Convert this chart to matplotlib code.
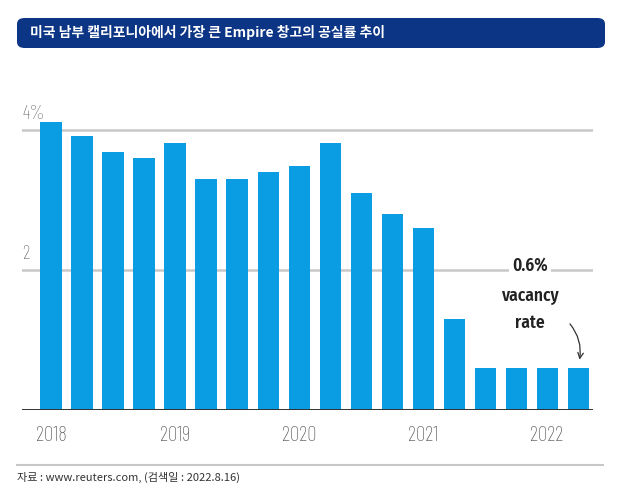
import numpy as np
import matplotlib.pyplot as plt
from matplotlib.patches import FancyBboxPatch

plt.rcParams['font.family'] = ['Noto Sans CJK KR', 'DejaVu Sans']
narrow = ['Barlow Condensed', 'Liberation Sans Narrow', 'DejaVu Sans']
bold_narrow = ['Fira Sans Condensed', 'Liberation Sans Narrow', 'DejaVu Sans']

# Quarterly vacancy rate (%), 2018 Q1 .. 2022 Q2
vacancy = [4.11, 3.91, 3.69, 3.60, 3.81, 3.30, 3.30, 3.40, 3.49,
           3.81, 3.10, 2.80, 2.60, 1.30, 0.60, 0.60, 0.60, 0.60]
year_labels = ['2018', '2019', '2020', '2021', '2022']
year_pos = [0, 4, 8, 12, 16]
grid_vals = [2, 4]
grid_labels = ['2', '4%']

title = '미국 남부 캘리포니아에서 가장 큰 Empire 창고의 공실률 추이'
source = '자료 : www.reuters.com, (검색일 : 2022.8.16)'

W, H = 633, 499
fig = plt.figure(figsize=(W / 100, H / 100), dpi=100)

# title box
box = FancyBboxPatch((17 / W, 1 - 48 / H), 588 / W, 30 / H,
                     boxstyle='round,pad=0,rounding_size=0.012',
                     transform=fig.transFigure, facecolor='#0c3586',
                     edgecolor='none')
fig.patches.append(box)
fig.text(30 / W, 1 - 33 / H, title, color='white', fontsize=10,
         fontweight='bold', va='center', ha='left')

# main axes: left 22px, right 593px, zero at y=410, 70px per %
ax = fig.add_axes([22 / W, (H - 410) / H, 571 / W, 315 / H])
x = np.arange(len(vacancy))
ax.bar(x, vacancy, width=0.68, color='#0b9de3', zorder=2)
ax.set_xlim(-0.935, 17.48)
ax.set_ylim(0, 4.5)

for v, lab in zip(grid_vals, grid_labels):
    ax.axhline(v, color='#c8c8c8', lw=1.8, zorder=1)
    ax.text(-0.92, v + 0.1, lab, color='#707070', fontsize=14,
            family=narrow, fontweight='light', ha='left', va='bottom')

ax.axhline(0, color='#333333', lw=1.4, zorder=3)

for p, lab in zip(year_pos, year_labels):
    ax.text(p, -0.23, lab, color='#555555', fontsize=15,
            family=narrow, fontweight='light', ha='center', va='top')

for s in ax.spines.values():
    s.set_visible(False)
ax.set_xticks([])
ax.set_yticks([])
ax.patch.set_alpha(0)

# annotation
ax.text(15.45, 2.07, '0.6%', fontsize=12.5, fontweight='semibold',
        family=bold_narrow, ha='center', va='center', color='#222222',
        bbox=dict(facecolor='white', edgecolor='none', pad=2), zorder=4)
ax.text(15.45, 1.63, 'vacancy', fontsize=12.5, fontweight='semibold',
        family=bold_narrow, ha='center', va='center', color='#222222')
ax.text(15.45, 1.25, 'rate', fontsize=12.5, fontweight='semibold',
        family=bold_narrow, ha='center', va='center', color='#222222')
ax.annotate('', xy=(17.03, 0.68), xytext=(16.68, 1.26),
            arrowprops=dict(arrowstyle='->', color='#333333', lw=0.9,
                            connectionstyle='arc3,rad=-0.25'))

# separator and source
fig.add_artist(plt.Line2D([17 / W, 603 / W], [1 - 465 / H, 1 - 465 / H],
                          color='#c8c8c8', lw=1.5))
fig.text(17 / W, 1 - 477 / H, source, fontsize=8, color='#333333',
         va='center', ha='left')

fig.savefig('out.png', dpi=100)
